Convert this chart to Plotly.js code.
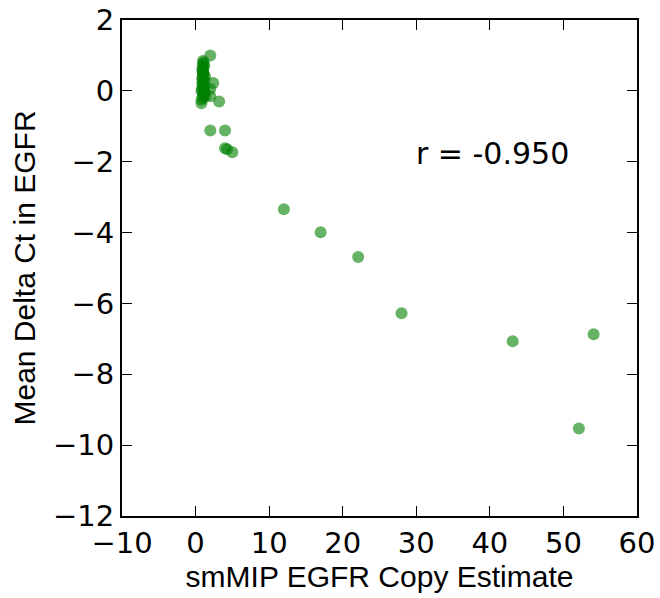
<!DOCTYPE html>
<html>
<head>
<meta charset="utf-8">
<script src="https://cdn.plot.ly/plotly-3.0.1.min.js"></script>
<style>html,body{margin:0;padding:0;background:#fff;}#chart{width:660px;height:598px;}</style>
</head>
<body>
<div id="chart"></div>
<script>
// smMIP EGFR copy estimate vs mean delta Ct
const copyEstimate = [
  1.0, 1.0, 1.0, 1.0, 1.0, 1.0, 1.0, 1.1, 1.1, 1.1, 1.2, 1.2, 0.9, 0.9, 0.8, 1.3, 1.3, 1.0, 0.8, 1.2,
  1.0, 1.0, 1.1, 0.9, 1.0, 1.1, 0.9, 1.2,
  2.0, 2.4, 2.0, 2.0, 3.2, 0.8,
  2.0, 4.0, 4.0, 4.3, 5.0,
  12.0, 17.0, 22.1, 28.0, 43.1, 52.1, 54.1
];
const meanDeltaCt = [
  0.84, 0.75, 0.65, 0.55, 0.45, 0.35, 0.25, 0.15, 0.05, -0.05, 0.30, 0.10, 0.60, 0.20, 0.00, -0.15, 0.40, -0.20, -0.25, 0.70,
  0.50, 0.10, 0.80, 0.35, -0.10, 0.50, 0.05, -0.05,
  1.00, 0.22, 0.05, -0.15, -0.30, -0.35,
  -1.12, -1.12, -1.62, -1.65, -1.73,
  -3.34, -3.99, -4.69, -6.28, -7.07, -9.53, -6.87
];
const xTicks = [-10, 0, 10, 20, 30, 40, 50, 60];
const yTicks = [-12, -10, -8, -6, -4, -2, 0, 2];
const corrLabel = 'r = -0.950';

const tickFont = {family: 'DejaVu Sans', size: 29, color: '#000'};
const titleFont = {family: 'Liberation Sans, Arial', size: 30, color: '#000'};

const trace = {
  x: copyEstimate,
  y: meanDeltaCt,
  mode: 'markers',
  type: 'scatter',
  marker: {size: 12, color: 'rgba(0,128,0,0.6)', line: {width: 0}},
  hoverinfo: 'x+y'
};

const axisCommon = {
  showgrid: false, zeroline: false,
  showline: true, linecolor: '#000', linewidth: 2, mirror: 'ticks',
  ticks: 'inside', ticklen: 10, tickwidth: 1, tickcolor: '#000',
  tickfont: tickFont
};

const layout = {
  width: 660, height: 598,
  margin: {l: 122, r: 23, t: 20, b: 82, autoexpand: false},
  paper_bgcolor: '#fff', plot_bgcolor: '#fff',
  showlegend: false,
  xaxis: Object.assign({}, axisCommon, {
    range: [xTicks[0], xTicks[xTicks.length - 1]],
    tickvals: xTicks,
    title: {text: 'smMIP EGFR Copy Estimate', font: titleFont, standoff: 4},
    automargin: false
  }),
  yaxis: Object.assign({}, axisCommon, {
    range: [yTicks[0], yTicks[yTicks.length - 1]],
    tickvals: yTicks,
    title: {text: 'Mean Delta Ct in EGFR', font: titleFont, standoff: 8},
    automargin: false
  }),
  annotations: [{
    x: 40.3, y: -1.76, xref: 'x', yref: 'y',
    text: corrLabel, showarrow: false,
    font: {family: 'DejaVu Sans', size: 30, color: '#000'}
  }]
};

Plotly.newPlot('chart', [trace], layout, {staticPlot: true, displayModeBar: false});
</script>
</body>
</html>
